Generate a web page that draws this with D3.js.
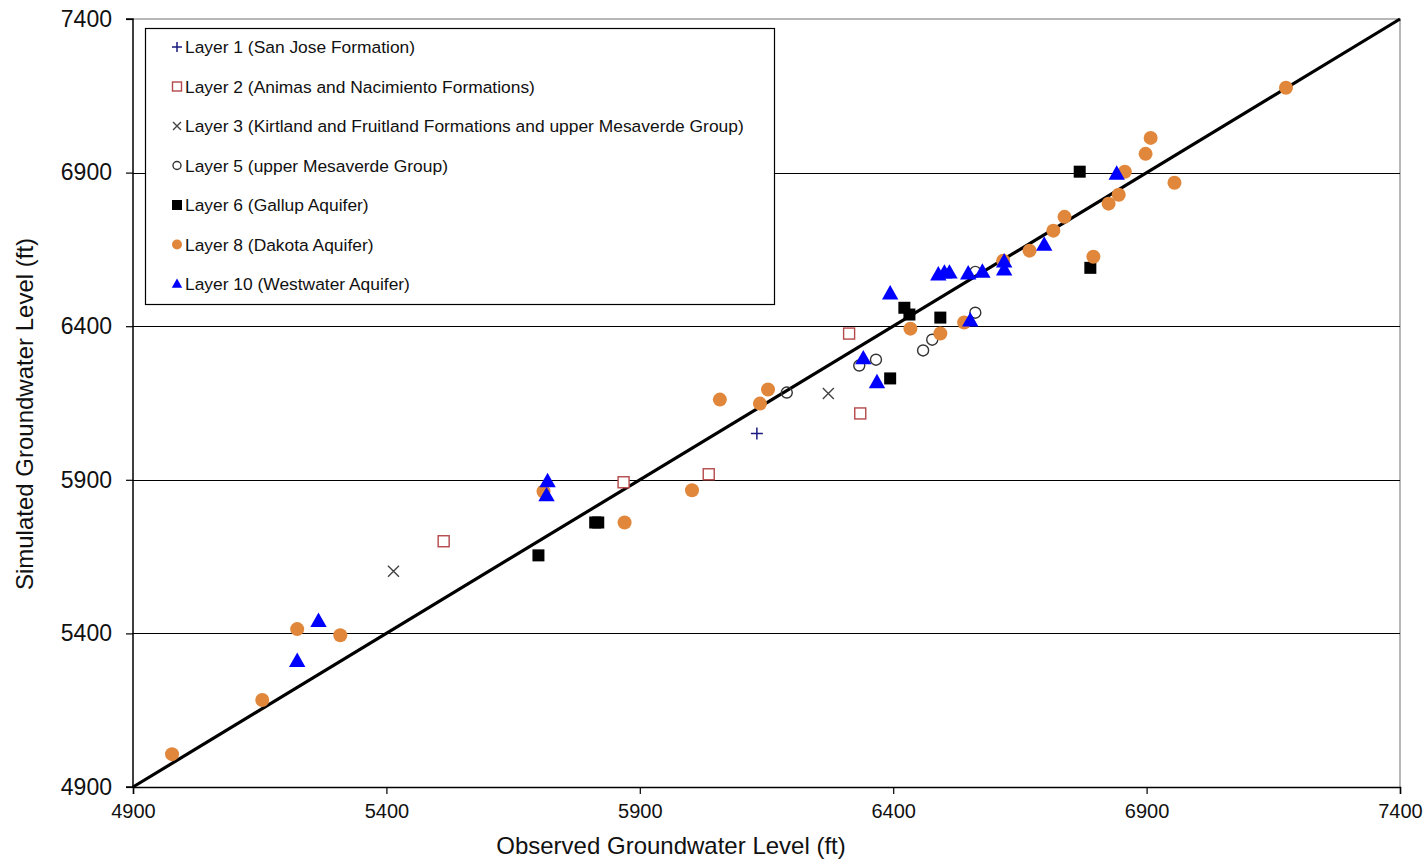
<!DOCTYPE html>
<html>
<head>
<meta charset="utf-8">
<script src="https://cdn.jsdelivr.net/npm/d3@7"></script>
<style>
  body { margin: 0; background: #fff; }
  text { font-family: "Liberation Sans", Arial, sans-serif; fill: #111; }
</style>
</head>
<body>
<div id="chart"></div>
<script>
// 坐标轴刻度
var xTicks = [4900, 5400, 5900, 6400, 6900, 7400];
var yTicks = [4900, 5400, 5900, 6400, 6900, 7400];

// 各层数据 [观测值, 模拟值]
var layer1 = [[6131, 6051]];
var layer2 = [[6313, 6376], [6335, 6116], [6036, 5918], [5868, 5892], [5513, 5700]];
var layer3 = [[5414, 5602], [6272, 6181]];
var layer5 = [[6190, 6184], [6333, 6272], [6366, 6291], [6459, 6321], [6477, 6356],
              [6562, 6444], [6562, 6577]];
var layer6 = [[6768, 6903], [6789, 6590], [6422, 6460], [6432, 6438], [6493, 6428],
              [6394, 6230], [5812, 5761], [5818, 5761], [5700, 5654]];
var layer8 = [[7175, 7176], [6908, 7013], [6898, 6961], [6857, 6903], [6955, 6867],
              [6845, 6828], [6825, 6799], [6738, 6756], [6716, 6711], [6669, 6646],
              [6617, 6613], [6795, 6626], [6540, 6412], [6493, 6376], [6434, 6392],
              [6153, 6194], [6137, 6148], [6058, 6161], [6003, 5866], [5870, 5761],
              [5710, 5862], [5224, 5414], [5309, 5394], [5155, 5183], [4977, 5007]];
var layer10 = [[6841, 6896], [6698, 6665], [6619, 6610], [6619, 6584], [6576, 6577],
               [6548, 6571], [6511, 6574], [6501, 6574], [6489, 6568], [6552, 6418],
               [6394, 6506], [6341, 6295], [6368, 6217], [5718, 5895], [5716, 5849],
               [5266, 5440], [5224, 5310]];

var legendNames = [
  "Layer 1 (San Jose Formation)",
  "Layer 2 (Animas and Nacimiento Formations)",
  "Layer 3 (Kirtland and Fruitland Formations and upper Mesaverde Group)",
  "Layer 5 (upper Mesaverde Group)",
  "Layer 6 (Gallup Aquifer)",
  "Layer 8 (Dakota Aquifer)",
  "Layer 10 (Westwater Aquifer)"
];

var W = 1427, H = 859;
var pL = 133, pR = 1400, pT = 19, pB = 787;

var svg = d3.select("#chart").append("svg")
    .attr("width", W).attr("height", H);

var x = d3.scaleLinear().domain([4900, 7400]).range([pL, pR]);
var y = d3.scaleLinear().domain([4900, 7400]).range([pB, pT]);

/*绘图区边框（上、右为灰色）*/
svg.append("path")
    .attr("d", "M" + pL + "," + pT + "H" + pR + "V" + pB)
    .attr("fill", "none").attr("stroke", "#a0a0a0").attr("stroke-width", 1.5);

/*水平网格线*/
svg.append("g").selectAll("line")
    .data(yTicks.slice(1, -1))
    .enter().append("line")
    .attr("x1", pL).attr("x2", pR)
    .attr("y1", function(d) { return Math.round(y(d)) + 0.5; })
    .attr("y2", function(d) { return Math.round(y(d)) + 0.5; })
    .attr("stroke", "#000").attr("stroke-width", 1.2);

/*y轴*/
var yAxis = d3.axisLeft(y).tickValues(yTicks).tickSize(7).tickPadding(14)
    .tickFormat(d3.format("d"));
var gy = svg.append("g").attr("transform", "translate(" + pL + ",0)").call(yAxis);
/*x轴*/
var xAxis = d3.axisBottom(x).tickValues(xTicks).tickSize(7).tickPadding(10)
    .tickFormat(d3.format("d"));
var gx = svg.append("g").attr("transform", "translate(0," + pB + ")").call(xAxis);

[gx, gy].forEach(function(g) {
  g.select(".domain").attr("stroke", "#000").attr("stroke-width", 1.5);
  g.selectAll(".tick line").attr("stroke", "#000").attr("stroke-width", 1.2);
  g.selectAll(".tick text")
      .style("font-family", "'Liberation Sans', Arial, sans-serif").attr("fill", "#111");
});
gx.selectAll(".tick text").style("font-size", "20px");
gy.selectAll(".tick text").style("font-size", "23px");
gy.select(".domain").attr("d", "M-7," + pT + "H0V" + pB + "H-7");

/*1:1 线*/
svg.append("line")
    .attr("x1", x(4900)).attr("y1", y(4900))
    .attr("x2", x(7400)).attr("y2", y(7400))
    .attr("stroke", "#000").attr("stroke-width", 3.2);

/*坐标轴标题*/
svg.append("text")
    .attr("x", 671).attr("y", 854)
    .attr("text-anchor", "middle").style("font-size", "24px")
    .text("Observed Groundwater Level (ft)");
svg.append("text")
    .attr("transform", "translate(33,414) rotate(-90)")
    .attr("text-anchor", "middle").style("font-size", "24px")
    .text("Simulated Groundwater Level (ft)");

/*符号绘制函数*/
var styles = [
  { data: layer1, draw: function(g, s) {
      g.append("path").attr("d", "M" + (-s) + ",0H" + s + "M0," + (-s) + "V" + s)
        .attr("stroke", "#1a1a80").attr("stroke-width", 1.5).attr("fill", "none");
    }, size: 6 },
  { data: layer2, draw: function(g, s) {
      g.append("rect").attr("x", -s).attr("y", -s).attr("width", 2 * s).attr("height", 2 * s)
        .attr("fill", "#fff").attr("stroke", "#b5484a").attr("stroke-width", 1.4);
    }, size: 5.5 },
  { data: layer3, draw: function(g, s) {
      g.append("path").attr("d", "M" + (-s) + "," + (-s) + "L" + s + "," + s + "M" + (-s) + "," + s + "L" + s + "," + (-s))
        .attr("stroke", "#444").attr("stroke-width", 1.4).attr("fill", "none");
    }, size: 5.5 },
  { data: layer5, draw: function(g, s) {
      g.append("circle").attr("r", s)
        .attr("fill", "#fff").attr("fill-opacity", 0).attr("stroke", "#333").attr("stroke-width", 1.4);
    }, size: 5.5 },
  { data: layer6, draw: function(g, s) {
      g.append("rect").attr("x", -s).attr("y", -s).attr("width", 2 * s).attr("height", 2 * s)
        .attr("fill", "#000");
    }, size: 6 },
  { data: layer8, draw: function(g, s) {
      g.append("circle").attr("r", s).attr("fill", "#e0873b");
    }, size: 7 },
  { data: layer10, draw: function(g, s) {
      g.append("path").attr("d", "M0," + (-s * 1.1) + "L" + (s * 1.05) + "," + (s * 0.75) + "L" + (-s * 1.05) + "," + (s * 0.75) + "Z")
        .attr("fill", "#0000ff");
    }, size: 7.8 }
];

/*散点*/
styles.forEach(function(st) {
  st.data.forEach(function(d) {
    var g = svg.append("g").attr("transform", "translate(" + x(d[0]) + "," + y(d[1]) + ")");
    st.draw(g, st.size);
  });
});

/*图例*/
var lg = svg.append("g");
lg.append("rect").attr("x", 145.5).attr("y", 28.5).attr("width", 629).attr("height", 276)
    .attr("fill", "#fff").attr("stroke", "#000").attr("stroke-width", 1.2);
var legendSizes = [5, 4.5, 4, 4, 5, 5, 5];
legendNames.forEach(function(name, i) {
  var cy = 47 + i * 39.5;
  var g = lg.append("g").attr("transform", "translate(177," + cy + ")");
  styles[i].draw(g, legendSizes[i]);
  lg.append("text").attr("x", 185).attr("y", cy + 6)
    .style("font-size", "17.4px").text(name);
});
</script>
</body>
</html>
